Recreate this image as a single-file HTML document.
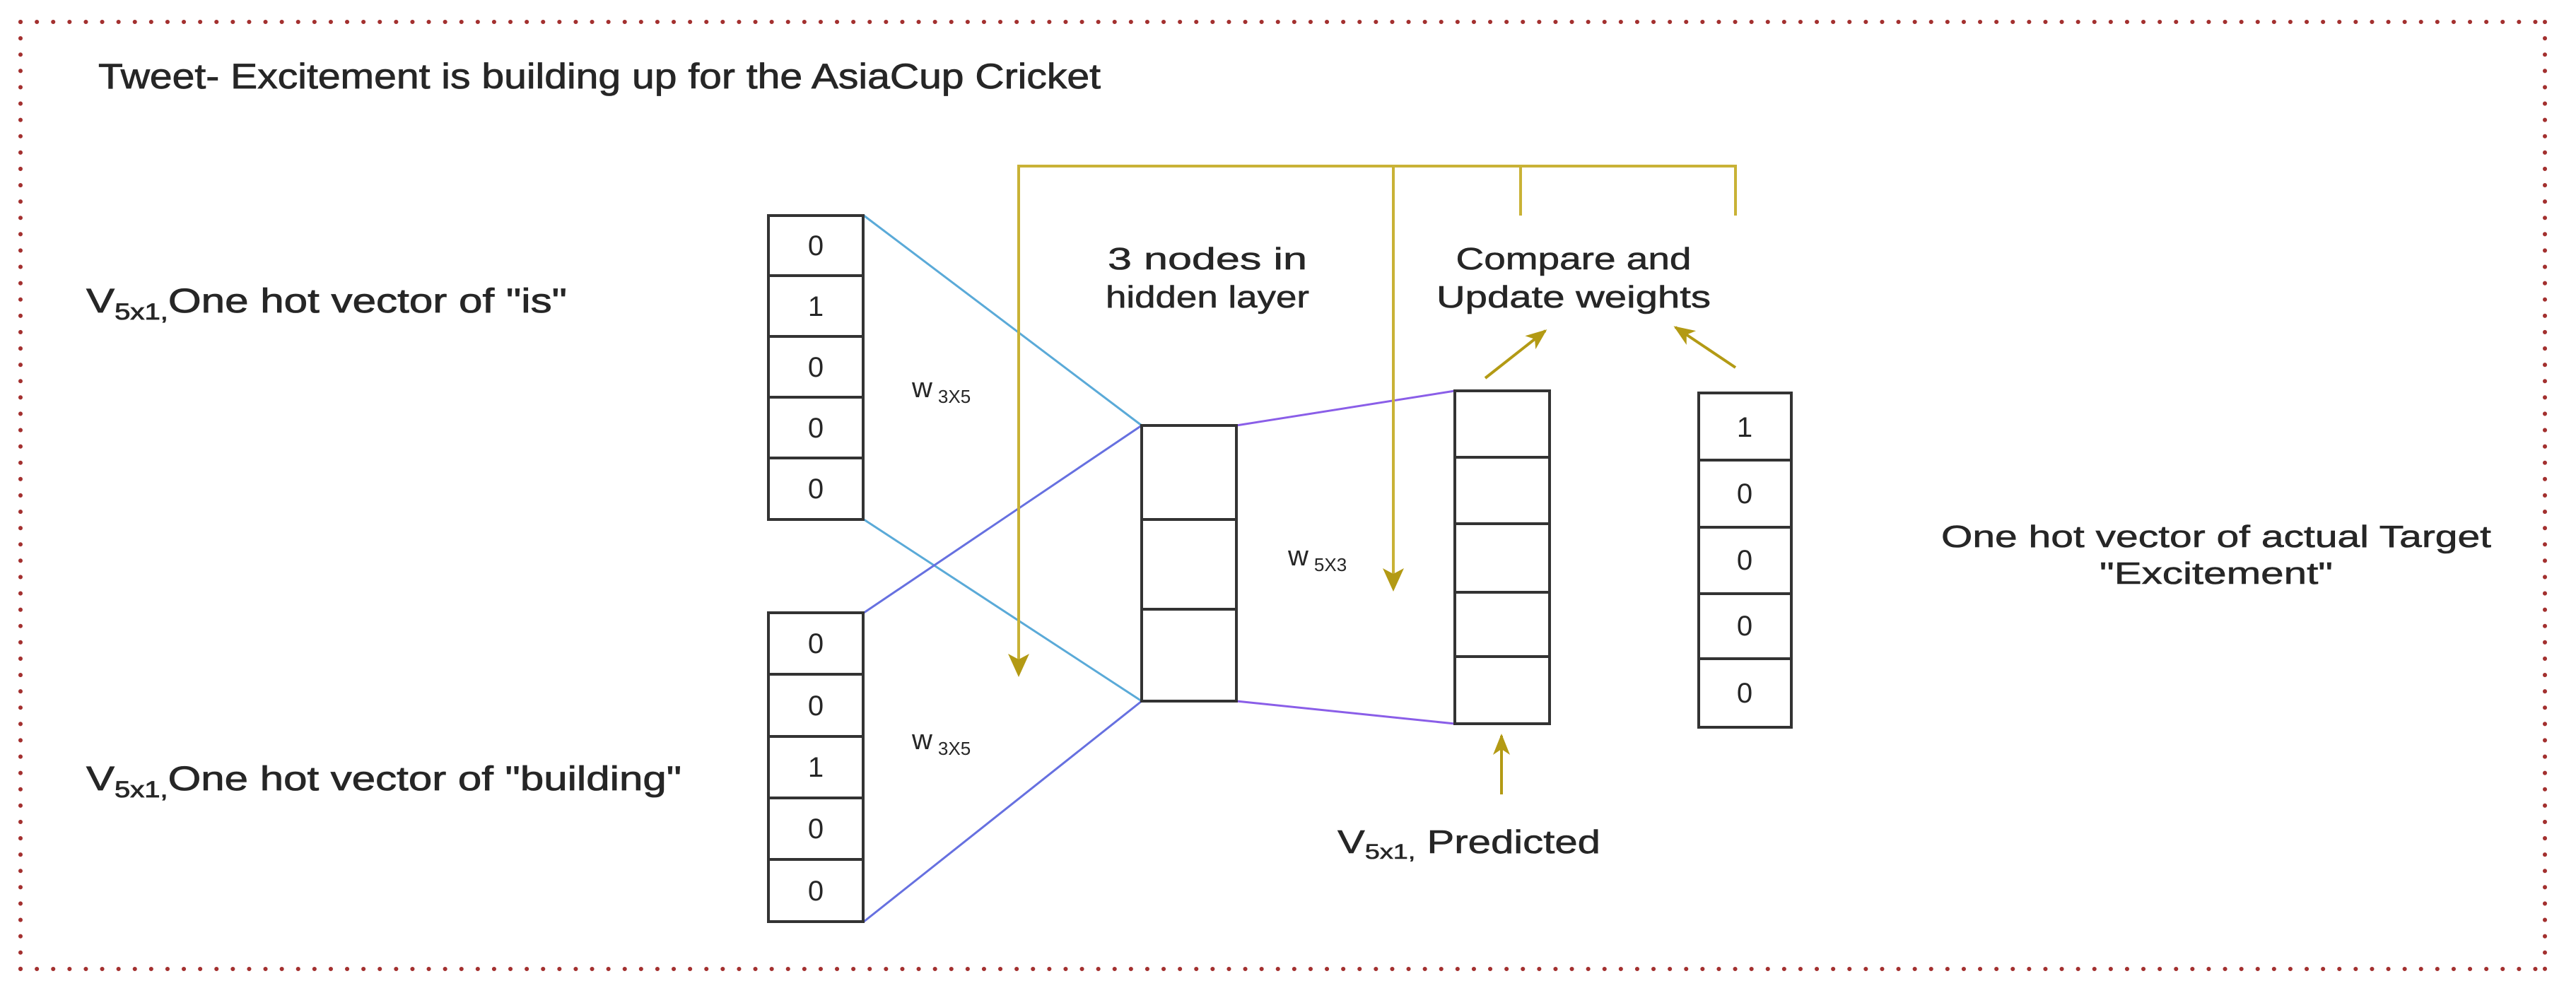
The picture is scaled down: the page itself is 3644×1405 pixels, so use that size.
<!DOCTYPE html>
<html><head><meta charset="utf-8"><style>html,body{margin:0;padding:0;background:#fff}svg{display:block}text{font-family:"Liberation Sans",Arial,sans-serif;fill:#262626}</style></head>
<body>
<svg width="3644" height="1405" viewBox="0 0 3644 1405" xmlns="http://www.w3.org/2000/svg">
<defs>
<marker id="ahb" markerWidth="30" markerHeight="30" refX="27" refY="15" orient="auto" markerUnits="userSpaceOnUse" viewBox="0 0 30 30"><path d="M0,3 L30,15 L0,27 L8,15 z" fill="#b39a14"/></marker>
</defs>
<g stroke="#a3302f" stroke-width="6" stroke-linecap="round" stroke-dasharray="0.1 23" fill="none">
<line x1="29" y1="31" x2="3600" y2="31"/><line x1="29" y1="1371" x2="3600" y2="1371"/>
<line x1="29" y1="31" x2="29" y2="1371"/><line x1="3600" y1="31" x2="3600" y2="1371"/>
</g>
<text x="139" y="125" font-size="50" textLength="1418" lengthAdjust="spacingAndGlyphs" stroke="#262626" stroke-width="0.8">Tweet- Excitement is building up for the AsiaCup Cricket</text>
<text x="122" y="442" font-size="48" textLength="680" lengthAdjust="spacingAndGlyphs" stroke="#262626" stroke-width="0.8">V<tspan font-size="32" dy="10">5x1,</tspan><tspan dy="-10">One hot vector of  "is"</tspan></text>
<text x="122" y="1118" font-size="48" textLength="842" lengthAdjust="spacingAndGlyphs" stroke="#262626" stroke-width="0.8">V<tspan font-size="32" dy="10">5x1,</tspan><tspan dy="-10">One hot vector of  "building"</tspan></text>
<g fill="none" stroke-width="3">
<line x1="1222" y1="305" x2="1615" y2="602" stroke="#5aaad8"/>
<line x1="1222" y1="735" x2="1615" y2="992" stroke="#5aaad8"/>
<line x1="1222" y1="867" x2="1615" y2="602" stroke="#6670e0"/>
<line x1="1222" y1="1304" x2="1615" y2="992" stroke="#6670e0"/>
<line x1="1749" y1="602" x2="2058" y2="553" stroke="#8a5ee8"/>
<line x1="1749" y1="992" x2="2058" y2="1024" stroke="#8a5ee8"/>
</g>
<g fill="none" stroke="#c9b236" stroke-width="4">
<polyline points="1441,954 1441,235 2455,235 2455,305"/>
<line x1="2151" y1="235" x2="2151" y2="305"/>
<line x1="1971" y1="235" x2="1971" y2="833"/>
</g>
<g fill="#b39a14">
<path d="M1441,958 L1426,925 L1441,933 L1456,925 z"/>
<path d="M1971,837 L1956,804 L1971,812 L1986,804 z"/>
</g>
<g stroke="#b39a14" stroke-width="4" fill="none">
<line x1="2101" y1="535" x2="2186" y2="468" marker-end="url(#ahb)"/>
<line x1="2455" y1="520" x2="2370" y2="463" marker-end="url(#ahb)"/>
<line x1="2124" y1="1124" x2="2124" y2="1041" marker-end="url(#ahb)"/>
</g>
<g fill="#fff" stroke="#333" stroke-width="4">
<rect x="1087" y="305" width="134" height="430"/>
<rect x="1087" y="867" width="134" height="437"/>
<rect x="1615" y="602" width="134" height="390"/>
<rect x="2058" y="553" width="134" height="471"/>
<rect x="2403" y="556" width="131" height="473"/>
</g>
<g stroke="#333" stroke-width="4">
<line x1="1087" y1="390" x2="1221" y2="390"/><line x1="1087" y1="476" x2="1221" y2="476"/><line x1="1087" y1="562" x2="1221" y2="562"/><line x1="1087" y1="648" x2="1221" y2="648"/>
<line x1="1087" y1="954" x2="1221" y2="954"/><line x1="1087" y1="1042" x2="1221" y2="1042"/><line x1="1087" y1="1129" x2="1221" y2="1129"/><line x1="1087" y1="1216" x2="1221" y2="1216"/>
<line x1="1615" y1="735" x2="1749" y2="735"/><line x1="1615" y1="862" x2="1749" y2="862"/>
<line x1="2058" y1="647" x2="2192" y2="647"/><line x1="2058" y1="741" x2="2192" y2="741"/><line x1="2058" y1="838" x2="2192" y2="838"/><line x1="2058" y1="929" x2="2192" y2="929"/>
<line x1="2403" y1="651" x2="2534" y2="651"/><line x1="2403" y1="746" x2="2534" y2="746"/><line x1="2403" y1="840" x2="2534" y2="840"/><line x1="2403" y1="932" x2="2534" y2="932"/>
</g>
<g font-size="40" text-anchor="middle">
<text x="1154" y="361">0</text><text x="1154" y="447">1</text><text x="1154" y="533">0</text><text x="1154" y="619">0</text><text x="1154" y="705">0</text>
<text x="1154" y="924">0</text><text x="1154" y="1012">0</text><text x="1154" y="1099">1</text><text x="1154" y="1186">0</text><text x="1154" y="1274">0</text>
<text x="2468" y="618">1</text><text x="2468" y="712">0</text><text x="2468" y="806">0</text><text x="2468" y="899">0</text><text x="2468" y="994">0</text>
</g>
<text x="1290" y="562" font-size="40">w<tspan font-size="26" dx="8" dy="8">3X5</tspan></text>
<text x="1290" y="1060" font-size="40">w<tspan font-size="26" dx="8" dy="8">3X5</tspan></text>
<text x="1822" y="800" font-size="40">w<tspan font-size="26" dx="8" dy="8">5X3</tspan></text>
<g font-size="44" text-anchor="middle" stroke="#262626" stroke-width="0.6">
<text x="1708" y="381" textLength="282" lengthAdjust="spacingAndGlyphs">3 nodes in</text>
<text x="1708" y="435" textLength="288" lengthAdjust="spacingAndGlyphs">hidden layer</text>
<text x="2226" y="381" textLength="333" lengthAdjust="spacingAndGlyphs">Compare and</text>
<text x="2226" y="435" textLength="388" lengthAdjust="spacingAndGlyphs">Update weights</text>
<text x="3135" y="774" textLength="778" lengthAdjust="spacingAndGlyphs">One hot vector of actual Target</text>
<text x="3135" y="826" textLength="330" lengthAdjust="spacingAndGlyphs">"Excitement"</text>
</g>
<text x="1892" y="1207" font-size="46" textLength="372" lengthAdjust="spacingAndGlyphs" stroke="#262626" stroke-width="0.6">V<tspan font-size="30" dy="8">5x1,</tspan><tspan dy="-8"> Predicted</tspan></text>
</svg>
</body></html>
